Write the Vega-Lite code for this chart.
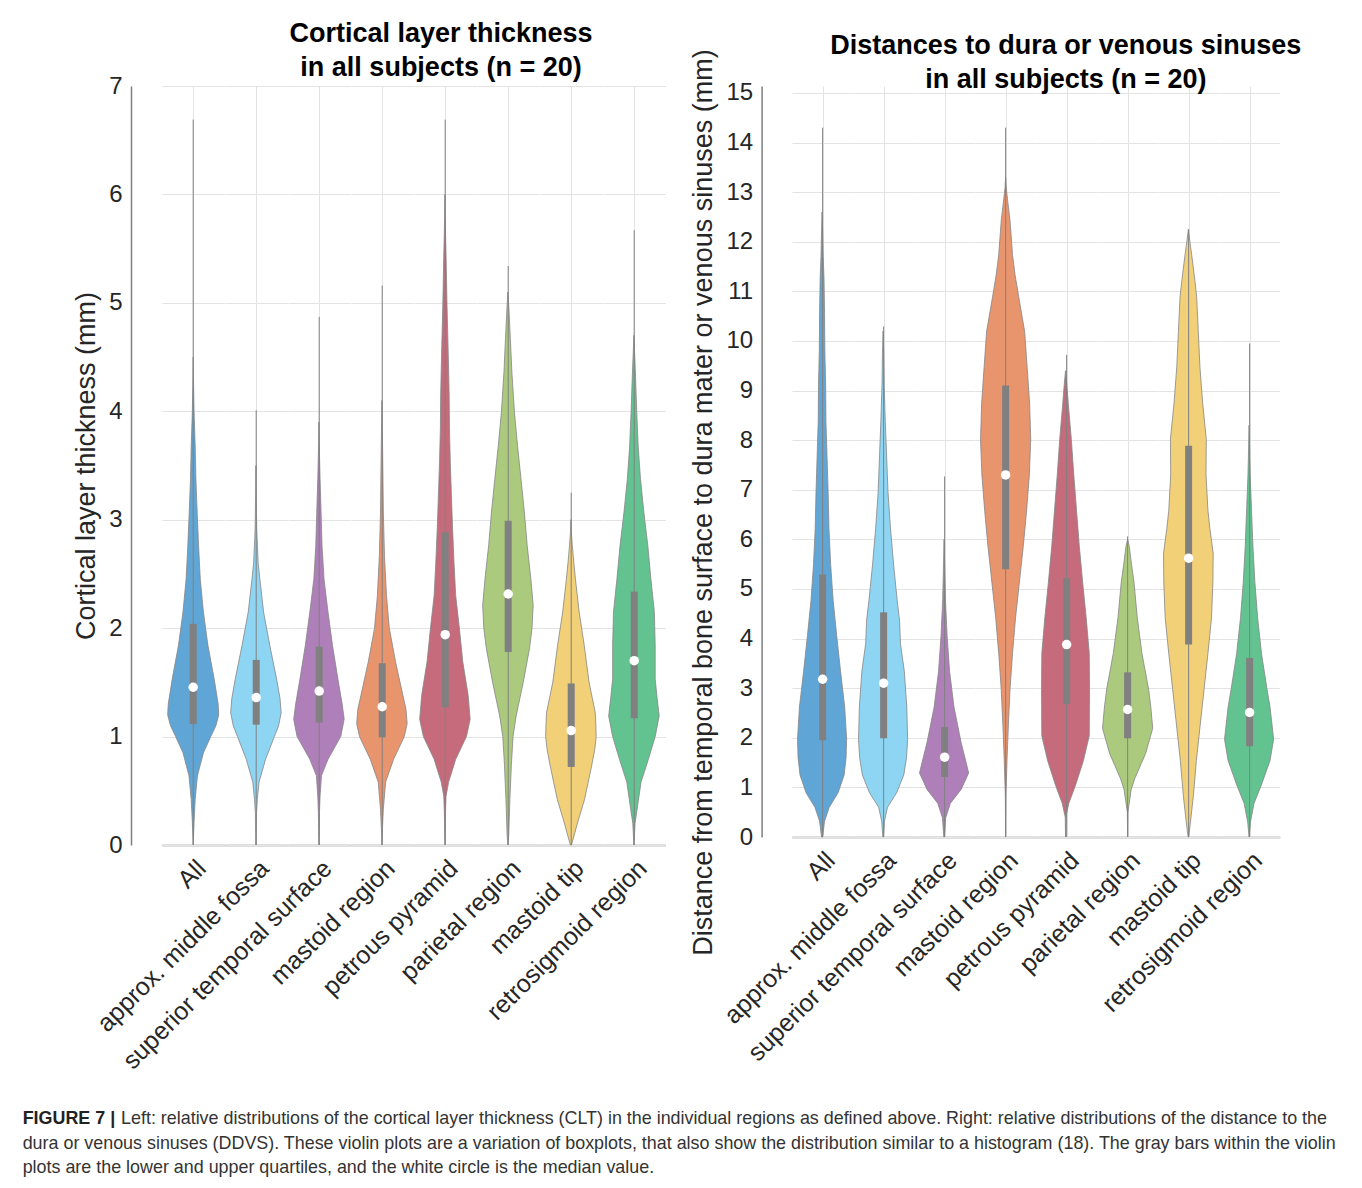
{
  "$schema": "https://vega.github.io/schema/vega-lite/v6.json",
  "background": "white",
  "padding": {"left": 22, "top": 20, "right": 0, "bottom": 0},
  "spacing": 23,
  "title": {
    "text": "FIGURE 7 |",
    "subtitle": [
      "\u200b\u2003\u2003\u2003\u2003\u2003\u2002Left: relative distributions of the cortical layer thickness (CLT) in the individual regions as defined above. Right: relative distributions of the distance to the",
      "dura or venous sinuses (DDVS). These violin plots are a variation of boxplots, that also show the distribution similar to a histogram (18). The gray bars within the violin",
      "plots are the lower and upper quartiles, and the white circle is the median value."
    ],
    "orient": "bottom",
    "anchor": "start",
    "frame": "bounds",
    "font": "Liberation Sans",
    "fontSize": 17.9,
    "fontWeight": "bold",
    "color": "#222222",
    "subtitleFont": "Liberation Sans",
    "subtitleFontSize": 17.9,
    "subtitleColor": "#333333",
    "subtitleLineHeight": 24.5,
    "subtitlePadding": -17.9,
    "offset": 36,
    "dx": -50
  },
  "datasets": {
    "clt": [
      {"c":"All","lo":0,"q1":1.115,"med":1.455,"q3":2.04,"hi":6.69},
      {"c":"All","v":0,"w":0},{"c":"All","v":0.21,"w":0.03},{"c":"All","v":0.42,"w":0.07},{"c":"All","v":0.64,"w":0.15},{"c":"All","v":0.85,"w":0.36},{"c":"All","v":1.0,"w":0.62},{"c":"All","v":1.1,"w":0.8},{"c":"All","v":1.2,"w":0.9},{"c":"All","v":1.3,"w":0.88},{"c":"All","v":1.53,"w":0.74},{"c":"All","v":1.84,"w":0.52},{"c":"All","v":2.15,"w":0.36},{"c":"All","v":2.45,"w":0.25},{"c":"All","v":2.76,"w":0.19},{"c":"All","v":3.07,"w":0.14},{"c":"All","v":3.38,"w":0.095},{"c":"All","v":3.68,"w":0.07},{"c":"All","v":4.0,"w":0.03},{"c":"All","v":4.3,"w":0.01},{"c":"All","v":4.5,"w":0},
      {"c":"approx. middle fossa","lo":0,"q1":1.11,"med":1.36,"q3":1.707,"hi":4.01},
      {"c":"approx. middle fossa","v":0,"w":0},{"c":"approx. middle fossa","v":0.3,"w":0.02},{"c":"approx. middle fossa","v":0.42,"w":0.05},{"c":"approx. middle fossa","v":0.58,"w":0.11},{"c":"approx. middle fossa","v":0.79,"w":0.34},{"c":"approx. middle fossa","v":1.0,"w":0.65},{"c":"approx. middle fossa","v":1.1,"w":0.8},{"c":"approx. middle fossa","v":1.22,"w":0.89},{"c":"approx. middle fossa","v":1.35,"w":0.85},{"c":"approx. middle fossa","v":1.53,"w":0.73},{"c":"approx. middle fossa","v":1.84,"w":0.49},{"c":"approx. middle fossa","v":2.15,"w":0.27},{"c":"approx. middle fossa","v":2.45,"w":0.14},{"c":"approx. middle fossa","v":2.6,"w":0.08},{"c":"approx. middle fossa","v":2.9,"w":0.03},{"c":"approx. middle fossa","v":3.2,"w":0.01},{"c":"approx. middle fossa","v":3.5,"w":0},
      {"c":"superior temporal surface","lo":0,"q1":1.13,"med":1.42,"q3":1.83,"hi":4.87},
      {"c":"superior temporal surface","v":0,"w":0},{"c":"superior temporal surface","v":0.3,"w":0.02},{"c":"superior temporal surface","v":0.45,"w":0.04},{"c":"superior temporal surface","v":0.64,"w":0.09},{"c":"superior temporal surface","v":0.79,"w":0.32},{"c":"superior temporal surface","v":1.0,"w":0.77},{"c":"superior temporal surface","v":1.16,"w":0.89},{"c":"superior temporal surface","v":1.3,"w":0.82},{"c":"superior temporal surface","v":1.53,"w":0.67},{"c":"superior temporal surface","v":1.84,"w":0.48},{"c":"superior temporal surface","v":2.15,"w":0.32},{"c":"superior temporal surface","v":2.45,"w":0.18},{"c":"superior temporal surface","v":2.76,"w":0.11},{"c":"superior temporal surface","v":3.07,"w":0.076},{"c":"superior temporal surface","v":3.38,"w":0.04},{"c":"superior temporal surface","v":3.7,"w":0.01},{"c":"superior temporal surface","v":3.9,"w":0},
      {"c":"mastoid region","lo":0,"q1":0.993,"med":1.275,"q3":1.676,"hi":5.16},
      {"c":"mastoid region","v":0,"w":0},{"c":"mastoid region","v":0.1,"w":0.01},{"c":"mastoid region","v":0.33,"w":0.05},{"c":"mastoid region","v":0.58,"w":0.13},{"c":"mastoid region","v":0.79,"w":0.41},{"c":"mastoid region","v":1.0,"w":0.79},{"c":"mastoid region","v":1.12,"w":0.89},{"c":"mastoid region","v":1.25,"w":0.85},{"c":"mastoid region","v":1.38,"w":0.74},{"c":"mastoid region","v":1.69,"w":0.48},{"c":"mastoid region","v":2.0,"w":0.26},{"c":"mastoid region","v":2.3,"w":0.16},{"c":"mastoid region","v":2.67,"w":0.09},{"c":"mastoid region","v":3.07,"w":0.05},{"c":"mastoid region","v":3.53,"w":0.03},{"c":"mastoid region","v":3.9,"w":0.01},{"c":"mastoid region","v":4.1,"w":0},
      {"c":"petrous pyramid","lo":0,"q1":1.27,"med":1.94,"q3":2.885,"hi":6.69},
      {"c":"petrous pyramid","v":0,"w":0},{"c":"petrous pyramid","v":0.3,"w":0.02},{"c":"petrous pyramid","v":0.45,"w":0.04},{"c":"petrous pyramid","v":0.58,"w":0.13},{"c":"petrous pyramid","v":0.79,"w":0.38},{"c":"petrous pyramid","v":1.0,"w":0.76},{"c":"petrous pyramid","v":1.16,"w":0.89},{"c":"petrous pyramid","v":1.38,"w":0.82},{"c":"petrous pyramid","v":1.69,"w":0.63},{"c":"petrous pyramid","v":2.0,"w":0.51},{"c":"petrous pyramid","v":2.3,"w":0.38},{"c":"petrous pyramid","v":2.61,"w":0.32},{"c":"petrous pyramid","v":2.92,"w":0.27},{"c":"petrous pyramid","v":3.22,"w":0.23},{"c":"petrous pyramid","v":3.53,"w":0.19},{"c":"petrous pyramid","v":3.84,"w":0.16},{"c":"petrous pyramid","v":4.15,"w":0.15},{"c":"petrous pyramid","v":4.5,"w":0.12},{"c":"petrous pyramid","v":4.97,"w":0.075},{"c":"petrous pyramid","v":5.44,"w":0.04},{"c":"petrous pyramid","v":5.77,"w":0.01},{"c":"petrous pyramid","v":6.0,"w":0},
      {"c":"parietal region","lo":0,"q1":1.78,"med":2.315,"q3":2.99,"hi":5.34},
      {"c":"parietal region","v":0,"w":0},{"c":"parietal region","v":0.1,"w":0.03},{"c":"parietal region","v":0.42,"w":0.07},{"c":"parietal region","v":0.73,"w":0.12},{"c":"parietal region","v":1.0,"w":0.18},{"c":"parietal region","v":1.19,"w":0.29},{"c":"parietal region","v":1.5,"w":0.54},{"c":"parietal region","v":1.81,"w":0.76},{"c":"parietal region","v":2.0,"w":0.85},{"c":"parietal region","v":2.21,"w":0.89},{"c":"parietal region","v":2.45,"w":0.81},{"c":"parietal region","v":2.76,"w":0.68},{"c":"parietal region","v":3.07,"w":0.58},{"c":"parietal region","v":3.38,"w":0.46},{"c":"parietal region","v":3.68,"w":0.34},{"c":"parietal region","v":3.99,"w":0.23},{"c":"parietal region","v":4.36,"w":0.14},{"c":"parietal region","v":4.67,"w":0.086},{"c":"parietal region","v":4.97,"w":0.03},{"c":"parietal region","v":5.1,"w":0},
      {"c":"mastoid tip","lo":0,"q1":0.72,"med":1.055,"q3":1.49,"hi":3.25},
      {"c":"mastoid tip","v":0,"w":0.02},{"c":"mastoid tip","v":0.21,"w":0.24},{"c":"mastoid tip","v":0.42,"w":0.48},{"c":"mastoid tip","v":0.58,"w":0.61},{"c":"mastoid tip","v":0.73,"w":0.73},{"c":"mastoid tip","v":0.88,"w":0.84},{"c":"mastoid tip","v":1.0,"w":0.89},{"c":"mastoid tip","v":1.1,"w":0.88},{"c":"mastoid tip","v":1.22,"w":0.86},{"c":"mastoid tip","v":1.5,"w":0.64},{"c":"mastoid tip","v":1.84,"w":0.47},{"c":"mastoid tip","v":2.15,"w":0.29},{"c":"mastoid tip","v":2.45,"w":0.16},{"c":"mastoid tip","v":2.61,"w":0.1},{"c":"mastoid tip","v":2.76,"w":0.05},{"c":"mastoid tip","v":2.9,"w":0.01},{"c":"mastoid tip","v":3.0,"w":0},
      {"c":"retrosigmoid region","lo":0,"q1":1.169,"med":1.70,"q3":2.337,"hi":5.67},
      {"c":"retrosigmoid region","v":0,"w":0},{"c":"retrosigmoid region","v":0.2,"w":0.04},{"c":"retrosigmoid region","v":0.36,"w":0.13},{"c":"retrosigmoid region","v":0.58,"w":0.25},{"c":"retrosigmoid region","v":0.79,"w":0.51},{"c":"retrosigmoid region","v":1.0,"w":0.75},{"c":"retrosigmoid region","v":1.19,"w":0.89},{"c":"retrosigmoid region","v":1.35,"w":0.82},{"c":"retrosigmoid region","v":1.53,"w":0.75},{"c":"retrosigmoid region","v":1.84,"w":0.75},{"c":"retrosigmoid region","v":2.15,"w":0.72},{"c":"retrosigmoid region","v":2.45,"w":0.6},{"c":"retrosigmoid region","v":2.76,"w":0.49},{"c":"retrosigmoid region","v":3.07,"w":0.35},{"c":"retrosigmoid region","v":3.38,"w":0.23},{"c":"retrosigmoid region","v":3.68,"w":0.15},{"c":"retrosigmoid region","v":3.99,"w":0.1},{"c":"retrosigmoid region","v":4.3,"w":0.06},{"c":"retrosigmoid region","v":4.5,"w":0.03},{"c":"retrosigmoid region","v":4.7,"w":0}
    ],
    "ddvs": [
      {"c":"All","lo":0,"q1":1.95,"med":3.18,"q3":5.29,"hi":14.3},
      {"c":"All","v":0,"w":0.02},{"c":"All","v":0.32,"w":0.09},{"c":"All","v":0.6,"w":0.26},{"c":"All","v":0.89,"w":0.58},{"c":"All","v":1.25,"w":0.8},{"c":"All","v":1.6,"w":0.87},{"c":"All","v":1.97,"w":0.89},{"c":"All","v":2.62,"w":0.82},{"c":"All","v":3.34,"w":0.67},{"c":"All","v":4.06,"w":0.53},{"c":"All","v":4.78,"w":0.4},{"c":"All","v":5.5,"w":0.31},{"c":"All","v":6.22,"w":0.25},{"c":"All","v":6.94,"w":0.22},{"c":"All","v":7.66,"w":0.18},{"c":"All","v":8.38,"w":0.14},{"c":"All","v":9.1,"w":0.13},{"c":"All","v":9.82,"w":0.1},{"c":"All","v":10.55,"w":0.09},{"c":"All","v":11.27,"w":0.07},{"c":"All","v":11.7,"w":0.04},{"c":"All","v":12.2,"w":0.02},{"c":"All","v":12.6,"w":0},
      {"c":"approx. middle fossa","lo":0,"q1":1.99,"med":3.1,"q3":4.53,"hi":10.29},
      {"c":"approx. middle fossa","v":0,"w":0.01},{"c":"approx. middle fossa","v":0.32,"w":0.05},{"c":"approx. middle fossa","v":0.6,"w":0.16},{"c":"approx. middle fossa","v":0.89,"w":0.49},{"c":"approx. middle fossa","v":1.25,"w":0.75},{"c":"approx. middle fossa","v":1.6,"w":0.85},{"c":"approx. middle fossa","v":1.97,"w":0.89},{"c":"approx. middle fossa","v":2.62,"w":0.86},{"c":"approx. middle fossa","v":3.34,"w":0.77},{"c":"approx. middle fossa","v":3.9,"w":0.63},{"c":"approx. middle fossa","v":4.35,"w":0.6},{"c":"approx. middle fossa","v":4.78,"w":0.51},{"c":"approx. middle fossa","v":5.5,"w":0.38},{"c":"approx. middle fossa","v":6.22,"w":0.27},{"c":"approx. middle fossa","v":6.94,"w":0.18},{"c":"approx. middle fossa","v":7.66,"w":0.13},{"c":"approx. middle fossa","v":8.38,"w":0.08},{"c":"approx. middle fossa","v":9.1,"w":0.04},{"c":"approx. middle fossa","v":9.82,"w":0.02},{"c":"approx. middle fossa","v":10.2,"w":0},
      {"c":"superior temporal surface","lo":0,"q1":1.21,"med":1.61,"q3":2.22,"hi":7.27},
      {"c":"superior temporal surface","v":0,"w":0.01},{"c":"superior temporal surface","v":0.39,"w":0.06},{"c":"superior temporal surface","v":0.68,"w":0.23},{"c":"superior temporal surface","v":0.96,"w":0.62},{"c":"superior temporal surface","v":1.29,"w":0.89},{"c":"superior temporal surface","v":1.5,"w":0.8},{"c":"superior temporal surface","v":1.9,"w":0.62},{"c":"superior temporal surface","v":2.62,"w":0.36},{"c":"superior temporal surface","v":3.34,"w":0.2},{"c":"superior temporal surface","v":4.06,"w":0.11},{"c":"superior temporal surface","v":4.78,"w":0.05},{"c":"superior temporal surface","v":5.5,"w":0.02},{"c":"superior temporal surface","v":6.0,"w":0},
      {"c":"mastoid region","lo":0,"q1":5.4,"med":7.3,"q3":9.1,"hi":14.3},
      {"c":"mastoid region","v":0,"w":0},{"c":"mastoid region","v":0.82,"w":0.01},{"c":"mastoid region","v":1.54,"w":0.05},{"c":"mastoid region","v":2.26,"w":0.1},{"c":"mastoid region","v":2.98,"w":0.16},{"c":"mastoid region","v":3.7,"w":0.25},{"c":"mastoid region","v":4.42,"w":0.36},{"c":"mastoid region","v":5.14,"w":0.5},{"c":"mastoid region","v":5.86,"w":0.64},{"c":"mastoid region","v":6.58,"w":0.76},{"c":"mastoid region","v":7.3,"w":0.86},{"c":"mastoid region","v":8.02,"w":0.91},{"c":"mastoid region","v":8.74,"w":0.87},{"c":"mastoid region","v":9.47,"w":0.78},{"c":"mastoid region","v":10.19,"w":0.69},{"c":"mastoid region","v":10.9,"w":0.47},{"c":"mastoid region","v":11.34,"w":0.34},{"c":"mastoid region","v":11.74,"w":0.25},{"c":"mastoid region","v":12.42,"w":0.16},{"c":"mastoid region","v":12.8,"w":0.08},{"c":"mastoid region","v":13.1,"w":0.02},{"c":"mastoid region","v":13.3,"w":0},
      {"c":"petrous pyramid","lo":0,"q1":2.68,"med":3.88,"q3":5.22,"hi":9.72},
      {"c":"petrous pyramid","v":0,"w":0},{"c":"petrous pyramid","v":0.4,"w":0.01},{"c":"petrous pyramid","v":0.68,"w":0.12},{"c":"petrous pyramid","v":1.04,"w":0.36},{"c":"petrous pyramid","v":1.54,"w":0.65},{"c":"petrous pyramid","v":2.04,"w":0.86},{"c":"petrous pyramid","v":2.98,"w":0.87},{"c":"petrous pyramid","v":3.7,"w":0.86},{"c":"petrous pyramid","v":4.42,"w":0.75},{"c":"petrous pyramid","v":5.14,"w":0.62},{"c":"petrous pyramid","v":5.86,"w":0.5},{"c":"petrous pyramid","v":6.58,"w":0.4},{"c":"petrous pyramid","v":7.3,"w":0.3},{"c":"petrous pyramid","v":8.02,"w":0.21},{"c":"petrous pyramid","v":8.74,"w":0.1},{"c":"petrous pyramid","v":9.1,"w":0.05},{"c":"petrous pyramid","v":9.4,"w":0},
      {"c":"parietal region","lo":0,"q1":1.99,"med":2.57,"q3":3.32,"hi":6.06},
      {"c":"parietal region","v":0,"w":0},{"c":"parietal region","v":0.5,"w":0.01},{"c":"parietal region","v":0.96,"w":0.13},{"c":"parietal region","v":1.18,"w":0.26},{"c":"parietal region","v":1.68,"w":0.65},{"c":"parietal region","v":2.19,"w":0.91},{"c":"parietal region","v":2.62,"w":0.84},{"c":"parietal region","v":2.98,"w":0.76},{"c":"parietal region","v":3.7,"w":0.52},{"c":"parietal region","v":4.42,"w":0.35},{"c":"parietal region","v":5.14,"w":0.23},{"c":"parietal region","v":5.5,"w":0.14},{"c":"parietal region","v":5.86,"w":0.06},{"c":"parietal region","v":6.0,"w":0},
      {"c":"mastoid tip","lo":0,"q1":3.88,"med":5.62,"q3":7.89,"hi":12.25},
      {"c":"mastoid tip","v":0,"w":0.01},{"c":"mastoid tip","v":0.32,"w":0.08},{"c":"mastoid tip","v":0.82,"w":0.18},{"c":"mastoid tip","v":1.54,"w":0.29},{"c":"mastoid tip","v":2.26,"w":0.43},{"c":"mastoid tip","v":2.98,"w":0.57},{"c":"mastoid tip","v":3.7,"w":0.71},{"c":"mastoid tip","v":4.42,"w":0.84},{"c":"mastoid tip","v":5.14,"w":0.89},{"c":"mastoid tip","v":5.72,"w":0.9},{"c":"mastoid tip","v":6.22,"w":0.78},{"c":"mastoid tip","v":6.58,"w":0.71},{"c":"mastoid tip","v":7.3,"w":0.64},{"c":"mastoid tip","v":8.02,"w":0.65},{"c":"mastoid tip","v":8.74,"w":0.52},{"c":"mastoid tip","v":9.47,"w":0.42},{"c":"mastoid tip","v":10.19,"w":0.36},{"c":"mastoid tip","v":10.9,"w":0.3},{"c":"mastoid tip","v":11.2,"w":0.24},{"c":"mastoid tip","v":11.74,"w":0.12},{"c":"mastoid tip","v":11.9,"w":0.08},{"c":"mastoid tip","v":12.2,"w":0.01},{"c":"mastoid tip","v":12.25,"w":0},
      {"c":"retrosigmoid region","lo":0,"q1":1.83,"med":2.51,"q3":3.61,"hi":9.95},
      {"c":"retrosigmoid region","v":0,"w":0},{"c":"retrosigmoid region","v":0.3,"w":0.05},{"c":"retrosigmoid region","v":0.68,"w":0.18},{"c":"retrosigmoid region","v":1.04,"w":0.44},{"c":"retrosigmoid region","v":1.54,"w":0.76},{"c":"retrosigmoid region","v":1.97,"w":0.89},{"c":"retrosigmoid region","v":2.62,"w":0.76},{"c":"retrosigmoid region","v":2.98,"w":0.65},{"c":"retrosigmoid region","v":3.7,"w":0.45},{"c":"retrosigmoid region","v":4.42,"w":0.31},{"c":"retrosigmoid region","v":5.14,"w":0.21},{"c":"retrosigmoid region","v":5.86,"w":0.14},{"c":"retrosigmoid region","v":6.58,"w":0.09},{"c":"retrosigmoid region","v":7.3,"w":0.04},{"c":"retrosigmoid region","v":8.02,"w":0.01},{"c":"retrosigmoid region","v":8.3,"w":0}
    ]
  },
  "hconcat": [
    {
      "data": {"name": "clt"},
      "title": {"text": ["Cortical layer thickness", "in all subjects (n = 20)"], "dx": 72, "offset": -8},
      "spacing": 0,
      "bounds": "flush",
      "facet": {"column": {"field": "c", "type": "nominal", "title": null,
        "sort": ["All","approx. middle fossa","superior temporal surface","mastoid region","petrous pyramid","parietal region","mastoid tip","retrosigmoid region"]}},
      "spec": {
        "width": 62.4,
        "height": 759,
        "layer": [
          {
            "transform": [{"filter": "isValid(datum.w)"}, {"stack": "w", "groupby": ["c", "v"], "offset": "center", "as": ["x0", "x1"]}],
            "mark": {"type": "area", "orient": "horizontal", "stroke": "#858585", "strokeWidth": 0.8, "fillOpacity": 1},
            "encoding": {
              "y": {"field": "v", "type": "quantitative", "scale": {"domain": [0, 7], "nice": false, "zero": false},
                "axis": {"values": [0,1,2,3,4,5,6,7], "format": "d", "offset": 31, "title": "Cortical layer thickness (mm)"}},
              "x": {"field": "x0", "type": "quantitative", "stack": null, "scale": {"domain": [-0.05, 0.95]},
                "axis": {"values": [0.45], "title": null}},
              "x2": {"field": "x1"},
              "color": {"field": "c", "type": "nominal", "legend": null,
                "scale": {"domain": ["All","approx. middle fossa","superior temporal surface","mastoid region","petrous pyramid","parietal region","mastoid tip","retrosigmoid region"],
                  "range": ["#5fa6d7","#8dd5f2","#ae7fb9","#e8946d","#c56b7c","#abca7d","#f2d077","#62c391"]}}
            }
          },
          {
            "transform": [{"filter": "isValid(datum.med)"}],
            "mark": {"type": "rule", "color": "#808080", "strokeWidth": 1},
            "encoding": {
              "x": {"datum": 0.45, "type": "quantitative"},
              "y": {"field": "lo", "type": "quantitative", "title": "Cortical layer thickness (mm)"},
              "y2": {"field": "hi"}
            }
          },
          {
            "transform": [{"filter": "isValid(datum.med)"}],
            "mark": {"type": "rule", "color": "#808080", "strokeWidth": 7, "strokeCap": "butt"},
            "encoding": {
              "x": {"datum": 0.45, "type": "quantitative"},
              "y": {"field": "q1", "type": "quantitative", "title": "Cortical layer thickness (mm)"},
              "y2": {"field": "q3"}
            }
          },
          {
            "transform": [{"filter": "isValid(datum.med)"}],
            "mark": {"type": "point", "shape": "circle", "filled": true, "color": "white", "opacity": 1, "size": 90},
            "encoding": {
              "x": {"datum": 0.45, "type": "quantitative"},
              "y": {"field": "med", "type": "quantitative", "title": "Cortical layer thickness (mm)"}
            }
          }
        ]
      }
    },
    {
      "data": {"name": "ddvs"},
      "title": {"text": ["Distances to dura or venous sinuses", "in all subjects (n = 20)"], "dx": 81, "offset": -45},
      "spacing": 0,
      "bounds": "flush",
      "facet": {"column": {"field": "c", "type": "nominal", "title": null,
        "sort": ["All","approx. middle fossa","superior temporal surface","mastoid region","petrous pyramid","parietal region","mastoid tip","retrosigmoid region"]}},
      "spec": {
        "width": 60.7,
        "height": 751,
        "layer": [
          {
            "transform": [{"filter": "isValid(datum.w)"}, {"stack": "w", "groupby": ["c", "v"], "offset": "center", "as": ["x0", "x1"]}],
            "mark": {"type": "area", "orient": "horizontal", "stroke": "#858585", "strokeWidth": 0.8, "fillOpacity": 1},
            "encoding": {
              "y": {"field": "v", "type": "quantitative", "scale": {"domain": [0, 15.14], "nice": false, "zero": false},
                "axis": {"values": [0,1,2,3,4,5,6,7,8,9,10,11,12,13,14,15], "format": "d", "offset": 30.4, "titleY": 416, "title": "Distance from temporal bone surface to dura mater or venous sinuses (mm)"}},
              "x": {"field": "x0", "type": "quantitative", "stack": null, "scale": {"domain": [-0.045, 0.955]},
                "axis": {"values": [0.455], "title": null}},
              "x2": {"field": "x1"},
              "color": {"field": "c", "type": "nominal", "legend": null,
                "scale": {"domain": ["All","approx. middle fossa","superior temporal surface","mastoid region","petrous pyramid","parietal region","mastoid tip","retrosigmoid region"],
                  "range": ["#5fa6d7","#8dd5f2","#ae7fb9","#e8946d","#c56b7c","#abca7d","#f2d077","#62c391"]}}
            }
          },
          {
            "transform": [{"filter": "isValid(datum.med)"}],
            "mark": {"type": "rule", "color": "#808080", "strokeWidth": 1},
            "encoding": {
              "x": {"datum": 0.455, "type": "quantitative"},
              "y": {"field": "lo", "type": "quantitative", "title": "Distance from temporal bone surface to dura mater or venous sinuses (mm)"},
              "y2": {"field": "hi"}
            }
          },
          {
            "transform": [{"filter": "isValid(datum.med)"}],
            "mark": {"type": "rule", "color": "#808080", "strokeWidth": 7, "strokeCap": "butt"},
            "encoding": {
              "x": {"datum": 0.455, "type": "quantitative"},
              "y": {"field": "q1", "type": "quantitative", "title": "Distance from temporal bone surface to dura mater or venous sinuses (mm)"},
              "y2": {"field": "q3"}
            }
          },
          {
            "transform": [{"filter": "isValid(datum.med)"}],
            "mark": {"type": "point", "shape": "circle", "filled": true, "color": "white", "opacity": 1, "size": 90},
            "encoding": {
              "x": {"datum": 0.455, "type": "quantitative"},
              "y": {"field": "med", "type": "quantitative", "title": "Distance from temporal bone surface to dura mater or venous sinuses (mm)"}
            }
          }
        ]
      }
    }
  ],
  "config": {
    "font": "Liberation Sans",
    "view": {"stroke": null},
    "title": {"font": "Liberation Sans", "fontSize": 27, "fontWeight": "bold", "color": "#000000", "lineHeight": 34, "anchor": "middle"},
    "axis": {"domainColor": "#7f7f7f", "domainWidth": 1.5, "gridColor": "#e3e3e3", "gridWidth": 1, "gridOpacity": 1, "ticks": false,
      "labelFont": "Liberation Sans", "labelFontSize": 24, "labelColor": "#262626", "labelPadding": 9,
      "titleFont": "Liberation Sans", "titleFontSize": 27, "titleFontWeight": "normal", "titleColor": "#262626", "titlePadding": 8},
    "axisX": {"labels": false, "grid": true},
    "axisY": {"grid": true},
    "header": {"labelOrient": "bottom", "labelAngle": -45, "labelAlign": "right", "labelBaseline": "top", "labelAnchor": "middle",
      "labelFont": "Liberation Sans", "labelFontSize": 25, "labelColor": "#262626", "labelPadding": 11}
  }
}
